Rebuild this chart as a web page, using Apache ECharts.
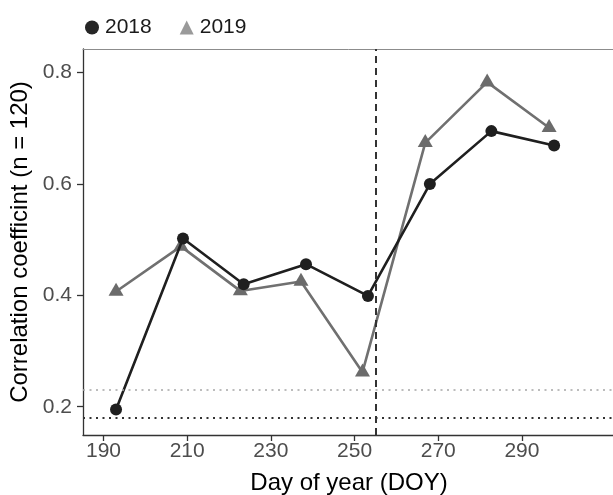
<!DOCTYPE html>
<html>
<head>
<meta charset="utf-8">
<script src="https://cdn.jsdelivr.net/npm/echarts@6/dist/echarts.min.js"></script>
<style>html,body{margin:0;padding:0;background:#fff;}#c{width:613px;height:495px;}</style>
</head>
<body>
<div id="c"></div>
<script>
var doy2018 = [193, 209, 223.5, 238.4, 253.2, 268, 282.7, 297.7];
var r2018 = [0.195, 0.502, 0.420, 0.456, 0.399, 0.600, 0.695, 0.669];
var doy2019 = [193, 208.5, 222.7, 237.2, 251.9, 266.9, 281.7, 296.5];
var r2019 = [0.407, 0.488, 0.408, 0.425, 0.262, 0.674, 0.783, 0.701];
var xTicks = [190, 210, 230, 250, 270, 290];
var yTicks = [0.2, 0.4, 0.6, 0.8];
var vLine = 255;
var hLineGray = 0.235;
var hLineDark = 0.18;
var seriesNames = ['2018', '2019'];

var font = 'Liberation Sans, Arial, sans-serif';
function pairs(xs, ys){ return xs.map(function(x,i){ return [x, ys[i]]; }); }

var chart = echarts.init(document.getElementById('c'), null, {renderer:'canvas'});
chart.setOption({
  animation: false,
  backgroundColor: '#fff',
  grid: {left: 83, top: 49, right: -2, bottom: 60, containLabel: false, outerBoundsMode: 'none'},
  legend: {
    left: 85, top: 17, padding: 0, itemWidth: 14, itemHeight: 14, itemGap: 28,
    textStyle: {fontFamily: font, fontSize: 21, color: '#1a1a1a', padding: [0,0,0,1]},
    data: [
      {name: seriesNames[0], icon: 'circle', itemStyle: {color: '#262626'}},
      {name: seriesNames[1], icon: 'triangle', itemStyle: {color: '#9a9a9a'}}
    ]
  },
  xAxis: [{
    type: 'value', min: 185.1, max: 312.25,
    name: 'Day of year (DOY)', nameLocation: 'middle', nameGap: 36,
    nameTextStyle: {fontFamily: font, fontSize: 24, color: '#000', align:'center'},
    splitLine: {show: false},
    axisLine: {show: true, lineStyle: {color: '#333', width: 1.3}},
    axisTick: {show: true, length: 6, lineStyle: {color: '#333', width: 1.3}, customValues: xTicks},
    axisLabel: {fontFamily: font, fontSize: 21, color: '#4d4d4d', margin: 6, customValues: xTicks}
  }, {
    type: 'value', position: 'top', min: 185.1, max: 312.25,
    axisLine: {show: true, onZero: false, lineStyle: {color: '#8c8c8c', width: 1}},
    axisTick: {show: false}, axisLabel: {show: false}, splitLine: {show: false}
  }],
  yAxis: {
    type: 'value', min: 0.1492, max: 0.8425,
    name: 'Correlation coefficint (n = 120)', nameLocation: 'middle', nameGap: 49,
    nameTextStyle: {fontFamily: font, fontSize: 24, color: '#000'},
    splitLine: {show: false},
    axisLine: {show: true, onZero: false, lineStyle: {color: '#333', width: 1.3}},
    axisTick: {show: true, length: 6, lineStyle: {color: '#333', width: 1.3}, customValues: yTicks},
    axisLabel: {fontFamily: font, fontSize: 21, color: '#4d4d4d', margin: 11, customValues: yTicks,
      formatter: function(v){ return v.toFixed(1); }}
  },
  series: [
    {
      name: seriesNames[1], type: 'line', data: pairs(doy2019, r2019), z: 3,
      symbol: 'triangle', symbolSize: [15, 13], symbolOffset: [0, -2.2],
      lineStyle: {color: '#707070', width: 2.6},
      itemStyle: {color: '#6b6b6b'},
      markLine: {
        silent: true, symbol: 'none', label: {show: false},
        data: [
          {yAxis: hLineGray, lineStyle: {color: '#a6a6a6', type: [2, 4.5], width: 1.6}},
          {yAxis: hLineDark, lineStyle: {color: '#333', type: [2, 4.5], width: 1.8}},
          {xAxis: vLine, lineStyle: {color: '#333', type: [7, 5], width: 2}}
        ]
      }
    },
    {
      name: seriesNames[0], type: 'line', data: pairs(doy2018, r2018), z: 4,
      symbol: 'circle', symbolSize: 12,
      lineStyle: {color: '#1f1f1f', width: 2.6},
      itemStyle: {color: '#1f1f1f'}
    }
  ]
});
</script>
</body>
</html>
